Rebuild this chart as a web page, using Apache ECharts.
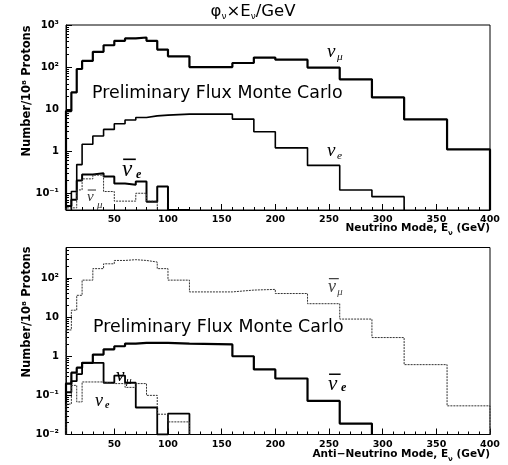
<!DOCTYPE html>
<html><head><meta charset="utf-8">
<script src="https://cdn.jsdelivr.net/npm/echarts@6/dist/echarts.min.js"></script>
<style>html,body{margin:0;padding:0;background:#fff}#c{width:508px;height:465px}</style>
</head><body><div id="c"></div>
<script>
// ---- data ----
const binEdges = [5,10,15,20,30,40,50,60,70,80,90,100,120,160,180,200,230,260,290,320,360,400];
// top panel: neutrino mode
const nuMuTop    = [9,25,90,140,230,330,420,480,505,420,260,180,100,125,168,150,97,51,19,5.7,1.1];
const nuETop     = [null,0.11,0.48,1.46,2.3,3.3,4.5,5.5,6.3,6.9,7.2,7.6,7.6,5.8,2.9,1.2,0.46,0.12,0.083,null,null];
const nuEBarTop  = [0.05,0.07,0.2,0.28,0.3,0.25,0.17,0.16,0.19,0.063,0.145,0.04,null];
const nuMuBarTop = [0.045,0.045,0.12,0.22,0.27,0.11,0.065,0.065,0.1,0.065,null];
// bottom panel: anti-neutrino mode
const nuMuBarBot = [4.7,15,36,88,173,230,280,293,280,255,173,88,44,49,51,40,22,8.9,3.0,0.61,0.054];
const nuEBarBot  = [0.2,0.38,0.51,0.68,1.1,1.5,1.8,2.1,2.2,2.2,2.2,2.1,2.0,1.0,0.46,0.27,0.072,0.019,null];
const nuMuBot    = [0.12,0.23,0.35,0.68,0.68,0.21,0.32,0.21,0.049,0.049,0.01,0.034,null];
const nuEBot     = [0.06,0.18,0.068,0.22,0.22,0.2,0.2,0.16,0.2,0.1,0.033,0.021,null];
// ticks
const xMajorTicks = [50,100,150,200,250,300,350,400];
const xMinorTicks = [10,20,30,40,60,70,80,90,110,120,130,140,160,170,180,190,210,220,230,240,260,270,280,290,310,320,330,340,360,370,380,390];
const yTickText = {'-2':'10\u207B\u00B2','-1':'10\u207B\u00B9','0':'1','1':'10','2':'10\u00B2','3':'10\u00B3'};
const yRanges = [[0.04,1000],[0.01,600]];

// ---- helpers ----
function hist(vals, floor) {
  const first = vals.findIndex(v => v != null);
  let last = vals.length - 1; while (vals[last] == null) last--;
  const pts = [[binEdges[first], floor]];
  for (let i = first; i <= last; i++) pts.push([binEdges[i], vals[i] == null ? floor : vals[i]]);
  pts.push([binEdges[last + 1], vals[last]]);
  pts.push([binEdges[last + 1], floor]);
  return pts;
}
function minorLogs(r) {
  const out = [];
  for (let d = Math.floor(Math.log10(r[0])); d <= Math.ceil(Math.log10(r[1])); d++)
    for (let k = 2; k <= 9; k++) { const v = k * Math.pow(10, d); if (v > r[0] && v < r[1]) out.push(Math.log10(v)); }
  return out;
}
const FONT = 'DejaVu Sans';
const grids = [
  {left: 66, right: 18, top: 25, height: 185, show: true, borderColor: '#000', borderWidth: 1},
  {left: 66, right: 18, top: 247.5, height: 187, show: true, borderColor: '#000', borderWidth: 1}
];
const xAxes = [], yAxes = [];
[0, 1].forEach(p => {
  xAxes.push({gridIndex: p, type: 'value', min: 5, max: 400, position: 'bottom',
    axisLine: {show: true, onZero: false, lineStyle: {color: '#000', width: 1}},
    axisTick: {show: true, inside: true, length: 6, customValues: xMajorTicks, lineStyle: {color: '#000'}},
    axisLabel: {customValues: xMajorTicks, color: '#000', fontFamily: FONT, fontWeight: 'bold', fontSize: 9.5, margin: 5},
    splitLine: {show: false}});
  xAxes.push({gridIndex: p, type: 'value', min: 5, max: 400, position: 'bottom',
    axisLine: {show: false, onZero: false},
    axisTick: {show: true, inside: true, length: 3, customValues: xMinorTicks, lineStyle: {color: '#000'}},
    axisLabel: {show: false}, splitLine: {show: false}});
  const r = yRanges[p];
  yAxes.push({gridIndex: p, type: 'log', logBase: 10, min: r[0], max: r[1], position: 'left',
    axisLine: {show: true, onZero: false, lineStyle: {color: '#000', width: 1}},
    axisTick: {show: true, inside: true, length: 6, lineStyle: {color: '#000'}},
    axisLabel: {color: '#000', fontFamily: FONT, fontWeight: 'bold', fontSize: 10, margin: 7, showMinLabel: p === 1, showMaxLabel: p === 0,
      formatter: v => { const l = Math.log10(v), e = Math.round(l); return Math.abs(l - e) < 1e-6 ? (yTickText[String(e)] || '') : ''; }},
    splitLine: {show: false}});
  yAxes.push({gridIndex: p, type: 'value', min: Math.log10(r[0]), max: Math.log10(r[1]), position: 'left',
    axisLine: {show: false, onZero: false},
    axisTick: {show: true, inside: true, length: 3, customValues: minorLogs(r), lineStyle: {color: '#000'}},
    axisLabel: {show: false}, splitLine: {show: false}});
});
function line(p, vals, width, type, color) {
  return {type: 'line', xAxisIndex: p * 2, yAxisIndex: p * 2, data: hist(vals, yRanges[p][0]),
    step: 'end', symbol: 'none', showSymbol: false, silent: true, animation: false, clip: true,
    lineStyle: {color: color || '#000', width: width, type: type || 'solid'}};
}
const series = [
  line(0, nuMuTop, 2.2), line(0, nuETop, 1.6), line(0, nuEBarTop, 2), line(0, nuMuBarTop, 1, [2, 1], '#333'),
  line(1, nuMuBarBot, 1, [2, 1], '#333'), line(1, nuEBarBot, 2.2), line(1, nuMuBot, 1.8), line(1, nuEBot, 1, [2, 1], '#333')
];
// ---- text graphics ----
const g = [];
const SERIF = 'Liberation Serif';
function nu(x, y, size, sub, bar, color, subSize, subDx, subDy, subBold) {
  color = color || '#000';
  g.push({type: 'text', x: x, y: y, style: {text: '\u03BD', font: `italic ${size}px "${SERIF}"`, fill: color, textAlign: 'left', textVerticalAlign: 'middle'}});
  g.push({type: 'text', x: x + (subDx != null ? subDx : size * 0.52), y: y + (subDy != null ? subDy : size * 0.28),
    style: {text: sub, font: `italic ${subBold ? 'bold ' : ''}${subSize || size * 0.6}px "${SERIF}"`, fill: color, textAlign: 'left', textVerticalAlign: 'middle'}});
  if (bar) g.push({type: 'rect', shape: {x: x + size * 0.05, y: y - size * 0.5, width: size * 0.55, height: Math.max(1, size * 0.07)}, style: {fill: color}});
}
g.push({type: 'text', x: 253, y: 12, style: {
  text: '{a|\u03C6}{s|\u03BD}{a|\u00D7E}{s|\u03BD}{a|/GeV}', textAlign: 'center', textVerticalAlign: 'middle',
  rich: {a: {fontFamily: FONT, fontSize: 16.5, lineHeight: 18, verticalAlign: 'top', fill: '#000'},
         s: {fontFamily: FONT, fontSize: 9, lineHeight: 9, verticalAlign: 'bottom', fill: '#000'}}}});
const xRich = {t: {fontFamily: FONT, fontWeight: 'bold', fontSize: 10.5, lineHeight: 14, verticalAlign: 'top', fill: '#000'},
               s: {fontFamily: FONT, fontWeight: 'bold', fontSize: 7, lineHeight: 7, verticalAlign: 'bottom', fill: '#000'}};
g.push({type: 'text', x: 490, y: 230, style: {text: '{t|Neutrino Mode, E}{s|\u03BD}{t| (GeV)}', textAlign: 'right', textVerticalAlign: 'middle', rich: xRich}});
g.push({type: 'text', x: 490, y: 456, style: {text: '{t|Anti\u2212Neutrino Mode, E}{s|\u03BD}{t| (GeV)}', textAlign: 'right', textVerticalAlign: 'middle', rich: xRich}});
[[27, 91], [27, 312]].forEach(([x, y]) => g.push({type: 'text', x: x, y: y, rotation: Math.PI / 2,
  style: {text: 'Number/10\u2078 Protons', font: `bold 11.5px "${FONT}"`, fill: '#000', textAlign: 'center', textVerticalAlign: 'middle'}}));
g.push({type: 'text', x: 92, y: 93, style: {text: 'Preliminary Flux Monte Carlo', font: `17.4px "${FONT}"`, fill: '#000', textAlign: 'left', textVerticalAlign: 'middle'}});
g.push({type: 'text', x: 93, y: 327, style: {text: 'Preliminary Flux Monte Carlo', font: `17.4px "${FONT}"`, fill: '#000', textAlign: 'left', textVerticalAlign: 'middle'}});
// top panel labels
nu(327, 52, 19, '\u03BC', false);
nu(327, 151, 19, 'e', false);
nu(122, 170, 23, 'e', true, '#000', 12, 14, 5, true);
nu(87, 197, 15, '\u03BC', true, '#333', 11, 10, 8);
// bottom panel labels
nu(328, 287, 18, '\u03BC', true, '#444');
nu(328, 384, 21, 'e', true, '#000', 12, 13, 4, true);
nu(116, 376, 19, '\u03BC', false);
nu(95, 401, 18, 'e', false, '#000', 10, 10, 4, true);

const chart = echarts.init(document.getElementById('c'));
chart.setOption({animation: false, backgroundColor: '#fff', grid: grids, xAxis: xAxes, yAxis: yAxes, series: series, graphic: g});
</script></body></html>
